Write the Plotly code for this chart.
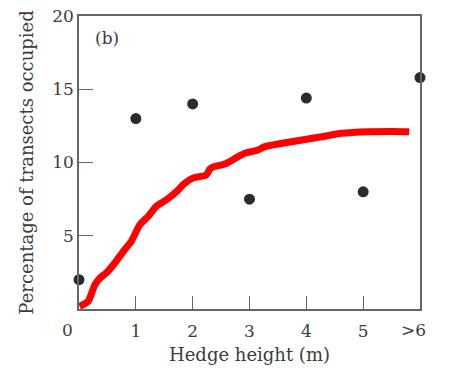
import plotly.graph_objects as go

# Observed occupancy by hedge height class
hedge_height = [0, 1, 2, 3, 4, 5, 6]
pct_occupied = [2.0, 13.0, 14.0, 7.5, 14.4, 8.0, 15.8]

# Fitted trend (hand-smoothed curve)
curve_x = [0.01, 0.16, 0.28, 0.37, 0.48, 0.63, 0.78, 0.92, 1.07, 1.22, 1.36, 1.54,
           1.72, 1.85, 2.01, 2.24, 2.30, 2.36, 2.57, 2.80, 2.92, 3.15, 3.27, 3.74,
           4.27, 4.62, 5.09, 5.50, 5.81]
curve_y = [0.18, 0.52, 1.66, 2.12, 2.46, 3.14, 3.94, 4.62, 5.75, 6.33, 7.01, 7.46,
           8.03, 8.55, 8.95, 9.15, 9.55, 9.70, 9.90, 10.40, 10.63, 10.85, 11.08, 11.42,
           11.76, 11.99, 12.10, 12.12, 12.10]

x_tick_vals = [0, 1, 2, 3, 4, 5, 6]
x_tick_text = ["0", "1", "2", "3", "4", "5", ">6"]
y_tick_vals = [5, 10, 15, 20]

FONT = "DejaVu Serif"
TXT = "#3c3c3c"
AX = "#666666"
TICK_SIZE = 17
TITLE_SIZE = 18

fig = go.Figure()
fig.add_trace(go.Scatter(x=curve_x, y=curve_y, mode="lines",
                         line=dict(color="#ff0000", width=7, shape="spline", smoothing=0.6),
                         hoverinfo="skip", cliponaxis=False))
fig.add_trace(go.Scatter(x=hedge_height, y=pct_occupied, mode="markers",
                         marker=dict(color="#2b2b2b", size=11), cliponaxis=False))

# End labels placed beside the axis corners
annots = [
    dict(x=x_tick_vals[0], y=0, xref="x", yref="y", text=x_tick_text[0], showarrow=False,
         xshift=-12, yshift=-21, font=dict(family=FONT, size=TICK_SIZE, color=TXT)),
    dict(x=x_tick_vals[-1], y=0, xref="x", yref="y", text=x_tick_text[-1], showarrow=False,
         xshift=-7, yshift=-21, font=dict(family=FONT, size=TICK_SIZE, color=TXT)),
    dict(x=0.04, y=0.965, xref="paper", yref="paper", text="(b)", showarrow=False,
         xanchor="left", yanchor="top", font=dict(family=FONT, size=17, color=TXT)),
]

fig.update_layout(
    width=449, height=376,
    margin=dict(l=79, r=29, t=16, b=67, autoexpand=False),
    plot_bgcolor="white", paper_bgcolor="white",
    showlegend=False,
    font=dict(family=FONT, size=TICK_SIZE, color=TXT),
    annotations=annots,
    xaxis=dict(range=[0, 6], tickvals=x_tick_vals[1:-1], ticktext=x_tick_text[1:-1],
               ticks="inside", ticklen=13, tickcolor=AX, tickwidth=1.2,
               ticklabelstandoff=6, automargin=False,
               showline=True, linecolor=AX, linewidth=1.5, mirror=True,
               showgrid=False, zeroline=False,
               title=dict(text="Hedge height (m)", standoff=8,
                          font=dict(family=FONT, size=TITLE_SIZE, color=TXT)),
               tickfont=dict(family=FONT, size=TICK_SIZE, color=TXT)),
    yaxis=dict(range=[0, 20], tickvals=y_tick_vals,
               ticks="inside", ticklen=14, tickcolor=AX, tickwidth=1.2,
               automargin=False,
               showline=True, linecolor=AX, linewidth=1.5, mirror=True,
               showgrid=False, zeroline=False,
               title=dict(text="Percentage of transects occupied", standoff=14,
                          font=dict(family=FONT, size=TITLE_SIZE, color=TXT)),
               tickfont=dict(family=FONT, size=TICK_SIZE, color=TXT)),
)

fig.write_html("out.html")
